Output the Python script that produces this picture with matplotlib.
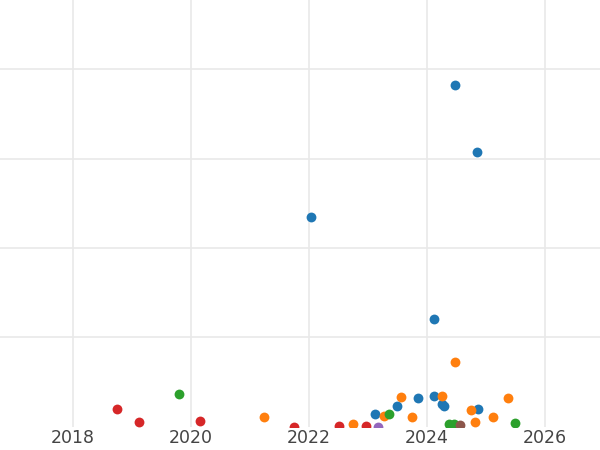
import matplotlib
matplotlib.use("Agg")
import matplotlib.pyplot as plt

### data (x = year, y = value)
blue_x   = [2024.47, 2024.85, 2022.03, 2024.11, 2023.11, 2023.49, 2023.85, 2024.11, 2024.26, 2024.28, 2024.86]
blue_y   = [382, 307, 234.6, 120, 13.7, 22.7, 32.4, 34, 25, 23.5, 19.3]
orange_x = [2024.47, 2021.24, 2022.74, 2023.27, 2023.56, 2023.75, 2024.26, 2024.74, 2024.82, 2025.11, 2025.37]
orange_y = [71.8, 11, 3, 12, 33, 11, 34.6, 18.6, 5.6, 10.4, 32]
green_x  = [2019.80, 2023.36, 2024.37, 2024.46, 2025.49]
green_y  = [36.5, 14, 3, 3, 3.7]
red_x    = [2018.75, 2019.12, 2020.15, 2021.75, 2022.51, 2022.97]
red_y    = [19.8, 5.2, 6, 0, 1, 1]
purple_x = [2023.16]
purple_y = [0]
brown_x  = [2024.56]
brown_y  = [2]

series = [
    (blue_x, blue_y, '#1f77b4'),
    (orange_x, orange_y, '#ff7f0e'),
    (green_x, green_y, '#2ca02c'),
    (red_x, red_y, '#d62728'),
    (purple_x, purple_y, '#9467bd'),
    (brown_x, brown_y, '#8c564b'),
]

fig = plt.figure(figsize=(6, 4.5), dpi=100)
ax = fig.add_axes([0, 0.052, 1, 0.948])

for xs, ys, c in series:
    ax.scatter(xs, ys, s=50, color=c, linewidths=0, zorder=3)

ax.set_xlim(2016.763, 2026.93)
ax.set_ylim(0, 477.7)
ax.set_xticks([2018, 2020, 2022, 2024, 2026])
ax.set_yticks([100, 200, 300, 400])
ax.set_yticklabels([])
ax.grid(True, color='#e9e9e9', linewidth=1.2, zorder=0)
ax.tick_params(length=0, labelsize=12.5, labelcolor='#444444', pad=2)
for s in ax.spines.values():
    s.set_visible(False)

fig.savefig("out.png", dpi=100)
